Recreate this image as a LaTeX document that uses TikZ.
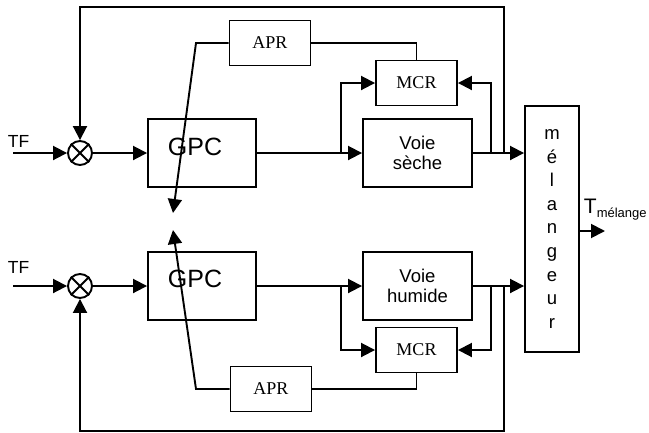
\documentclass[tikz,border=0pt]{standalone}
\usepackage{fontspec}
\setmainfont{Liberation Sans}
\newfontfamily\timesfont{Liberation Serif}
\usetikzlibrary{arrows.meta}

\newcommand{\gros}{\fontsize{25}{25}\selectfont}
\newcommand{\moyen}{\fontsize{18.5}{20}\selectfont}
\newcommand{\lettres}{\fontsize{18.5}{23.6}\selectfont}

\tikzset{
	bloc/.style={draw,rectangle,inner sep=0pt,minimum width=108pt,minimum height=68pt},
	petit/.style={draw,rectangle,inner sep=0pt,minimum width=81pt,minimum height=45pt,font=\timesfont\fontsize{18}{18}\selectfont},
	somme/.style={draw,circle,inner sep=0pt,minimum size=24pt},
	fl/.style={-{Triangle[length=14pt,width=14pt]}}
}

\begin{document}
\begin{tikzpicture}[x=1pt,y=-1pt,line width=1.9pt]
		\useasboundingbox (0,0) rectangle (649,432);

		\node[somme] (sA) at (80,153) {};
		\node[somme] (sB) at (80,286) {};
		\draw (sA.north west) -- (sA.south east) (sA.north east) -- (sA.south west);
		\draw (sB.north west) -- (sB.south east) (sB.north east) -- (sB.south west);

		\node[font=\fontsize{17.5}{17.5}\selectfont,inner sep=0pt] (tfA) at (18.5,141) {TF};
		\node[font=\fontsize{17.5}{17.5}\selectfont,inner sep=0pt] (tfB) at (18.5,267) {TF};

		\node[bloc,label={[font=\gros,xshift=-7pt,yshift=6pt]center:GPC}] (gA) at (202,153) {};
		\node[bloc,label={[font=\gros,xshift=-7pt,yshift=7pt]center:GPC}] (gB) at (202,286) {};

		\node[bloc,minimum width=109pt,align=center,font=\moyen] (vA) at (417.5,153) {Voie\\sèche};
		\node[bloc,minimum width=109pt,align=center,font=\moyen] (vB) at (417.5,286) {Voie\\humide};

		\node[petit] (mA) at (416.5,83) {MCR};
		\node[petit] (mB) at (416.5,350) {MCR};
		\node[petit] (aA) at (270,43) {APR};
		\node[petit] (aB) at (271,389) {APR};

		\node[draw,inner sep=0pt,minimum width=54pt,minimum height=246pt,align=center,font=\lettres] (mel) at (552,229) {m\\é\\l\\a\\n\\g\\e\\u\\r};
		\node[anchor=base west,inner sep=0pt,font=\fontsize{21}{21}\selectfont] (tmel) at (583,213) {T\raisebox{-4pt}{\fontsize{13}{13}\selectfont mélange}};

		\coordinate (eA) at (13,153);
		\coordinate (eB) at (13,286);
		\coordinate (bgA) at (341,153);
		\coordinate (bgB) at (341,286);
		\coordinate (bdA) at (491,153);
		\coordinate (bdB) at (491,286);
		\coordinate (jA) at (504,153);
		\coordinate (jB) at (504,286);
		\coordinate (hA) at (504,7);
		\coordinate (hB) at (504,431);
		\coordinate (pA) at (196,43);
		\coordinate (pB) at (196,389);
		\coordinate (tA) at (173,213);
		\coordinate (tB) at (173,230);
		\coordinate (sortie) at (605,231);

		\draw[fl] (eA) -- (sA);
		\draw[fl] (sA) -- (gA);
		\draw[fl] (gA) -- (vA);
		\draw[fl] (vA.east) -- (vA.east -| mel.west);
		\draw[fl] (bgA) |- (mA.west);
		\draw[fl] (bdA) |- (mA.east);
		\draw[fl] (jA) -- (hA) -| (sA.north);
		\draw (mA.north) |- (aA.east);
		\draw[fl] (aA.west) -- (pA) -- (tA);

		\draw[fl] (eB) -- (sB);
		\draw[fl] (sB) -- (gB);
		\draw[fl] (gB) -- (vB);
		\draw[fl] (vB.east) -- (vB.east -| mel.west);
		\draw[fl] (bgB) |- (mB.west);
		\draw[fl] (bdB) |- (mB.east);
		\draw[fl] (jB) -- (hB) -| (sB.south);
		\draw (mB.south) |- (aB.east);
		\draw[fl] (aB.west) -- (pB) -- (tB);

		\draw[fl] (sortie -| mel.east) -- (sortie);
	\end{tikzpicture}
\end{document}
